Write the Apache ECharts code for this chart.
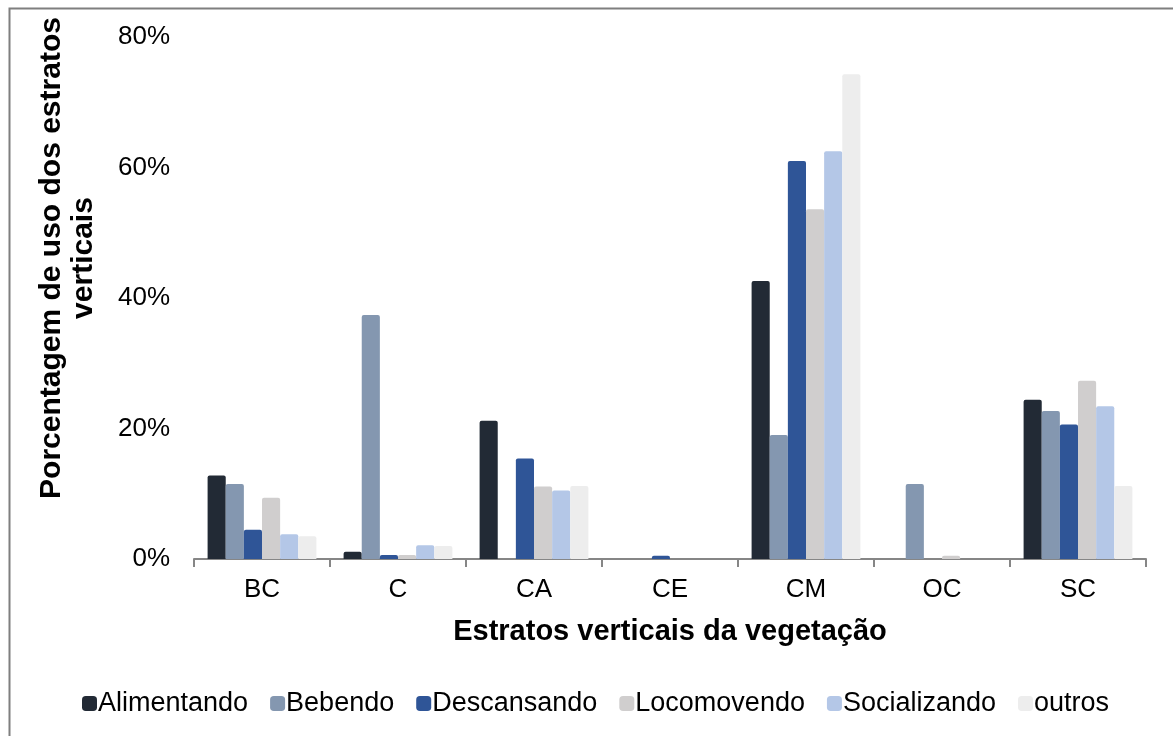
<!DOCTYPE html>
<html>
<head>
<meta charset="utf-8">
<script src="https://cdn.jsdelivr.net/npm/echarts@6/dist/echarts.min.js"></script>
<style>
  html, body { margin: 0; padding: 0; background: #fff; }
  #chart { width: 1173px; height: 736px; }
</style>
</head>
<body>
<div id="chart"></div>
<script>
// Vertical strata of vegetation
const categories = ['BC', 'C', 'CA', 'CE', 'CM', 'OC', 'SC'];

// Percentage of use per behaviour
const alimentando  = [12.8, 1.1, 21.2, 0,   42.6, 0,    24.4];
const bebendo      = [11.5, 37.4, 0,   0,   19.0, 11.5, 22.7];
const descansando  = [4.5,  0.6, 15.4, 0.5, 61.0, 0,    20.6];
const locomovendo  = [9.4,  0.6, 11.1, 0,   53.6, 0.5,  27.3];
const socializando = [3.8,  2.1, 10.5, 0,   62.5, 0,    23.4];
const outros       = [3.5,  2.0, 11.2, 0,   74.3, 0,    11.2];

const yTicks = [0, 20, 40, 60, 80];

const seriesDefs = [
  { name: 'Alimentando',  data: alimentando,  color: '#222a35' },
  { name: 'Bebendo',      data: bebendo,      color: '#8497b0' },
  { name: 'Descansando',  data: descansando,  color: '#2f5597' },
  { name: 'Locomovendo',  data: locomovendo,  color: '#d0cece' },
  { name: 'Socializando', data: socializando, color: '#b4c7e7' },
  { name: 'outros',       data: outros,       color: '#ededed' }
];

const FONT = "'Liberation Sans', Arial, sans-serif";

const chart = echarts.init(document.getElementById('chart'), null, { renderer: 'canvas' });

chart.setOption({
  animation: false,
  textStyle: { fontFamily: FONT },
  grid: { left: 194, right: 27, top: 37, bottom: 177, containLabel: false },
  legend: {
    left: 77,
    top: 685,
    itemWidth: 15,
    itemHeight: 15,
    itemGap: 22,
    icon: 'roundRect',
    textStyle: { fontFamily: FONT, fontSize: 27, color: '#000', padding: [0, 0, 0, -4] },
    data: seriesDefs.map(s => s.name)
  },
  xAxis: {
    type: 'category',
    data: categories,
    name: 'Estratos verticais da vegetação',
    nameLocation: 'middle',
    nameGap: 58,
    nameTextStyle: { fontFamily: FONT, fontSize: 29, fontWeight: 'bold', color: '#000' },
    axisLine: { lineStyle: { color: '#868686', width: 2 } },
    axisTick: { show: true, length: 8, lineStyle: { color: '#868686', width: 2 } },
    axisLabel: { fontFamily: FONT, fontSize: 26, color: '#000', margin: 18 }
  },
  yAxis: {
    type: 'value',
    min: yTicks[0],
    max: yTicks[yTicks.length - 1],
    interval: 20,
    axisLine: { show: false },
    axisTick: { show: false },
    splitLine: { show: false },
    axisLabel: { fontFamily: FONT, fontSize: 26, color: '#000', margin: 24, formatter: '{value}%' }
  },
  series: seriesDefs.map(s => ({
    name: s.name,
    type: 'bar',
    data: s.data,
    barGap: '0%',
    barCategoryGap: '20%',
    itemStyle: { color: s.color, borderRadius: [2, 2, 0, 0] }
  })),
  graphic: [
    {
      type: 'rect',
      left: 7, top: 6,
      shape: { width: 1200, height: 800 },
      style: { fill: 'none', stroke: '#7f7f7f', lineWidth: 2 },
      silent: true
    },
    {
      type: 'text',
      x: 68, y: 258,
      rotation: Math.PI / 2,
      style: {
        text: 'Porcentagem de uso dos estratos\nverticais',
        fontFamily: FONT,
        fontSize: 30,
        fontWeight: 'bold',
        lineHeight: 32,
        fill: '#000',
        align: 'center',
        verticalAlign: 'middle'
      },
      silent: true
    }
  ]
});
</script>
</body>
</html>
